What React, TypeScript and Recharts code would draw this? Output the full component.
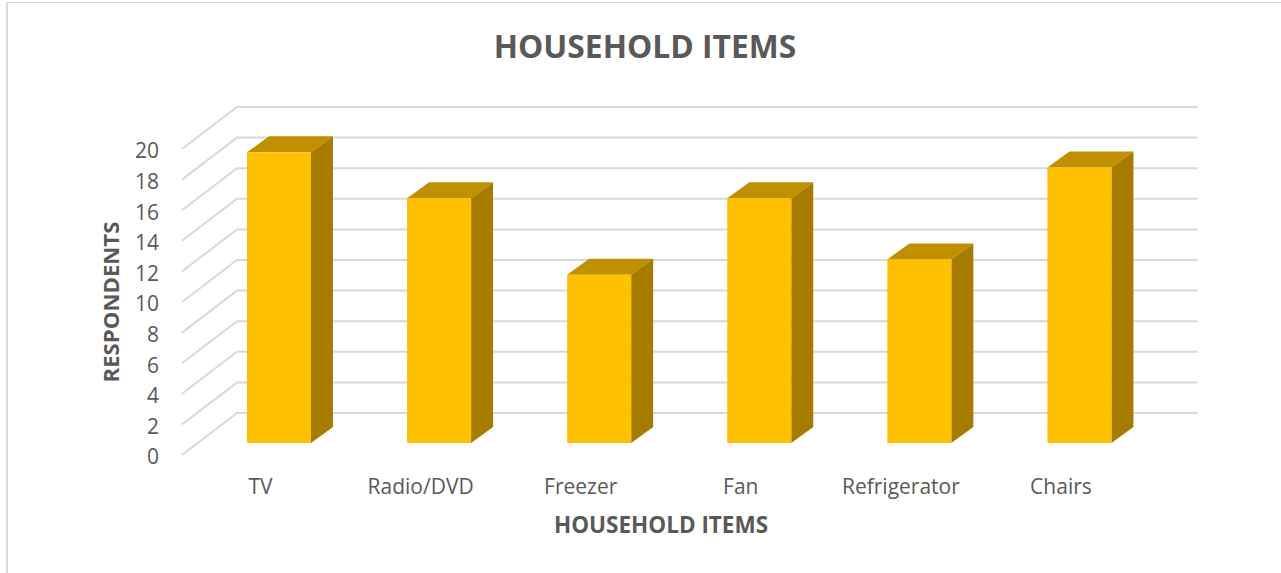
import { BarChart, Bar, XAxis, YAxis, CartesianGrid } from "recharts"

const categories = ["TV", "Radio/DVD", "Freezer", "Fan", "Refrigerator", "Chairs"]
const respondents = [19, 16, 11, 16, 12, 18]
const valueTicks = [0, 2, 4, 6, 8, 10, 12, 14, 16, 18, 20]

const data = categories.map((name, i) => ({ name, respondents: respondents[i] }))

const FONT = '"Open Sans", sans-serif'
const TEXT = "#595959"
const GRID = "#d9d9d9"

// wall is pushed back by this much, bars stand half way in
const WALL_DX = 55
const WALL_DY = -42
const BAR_DX = 16
const BAR_DY = -12
const DEPTH_DX = 22
const DEPTH_DY = -16

function WallLine(props: any) {
  const { x1, x2, y1 } = props
  const bx = x1 + WALL_DX
  const by = y1 + WALL_DY
  return (
    <polyline
      points={`${x1 - 1},${y1} ${bx - 1},${by} ${x2 + WALL_DX - 1},${by}`}
      fill="none"
      stroke={GRID}
      strokeWidth={2}
    />
  )
}

function Bar3D(props: any) {
  const x = props.x + BAR_DX
  const y = props.y + BAR_DY
  const w = props.width
  const h = props.height
  const r = x + w
  const b = y + h
  return (
    <g>
      <polygon
        points={`${x},${y} ${x + DEPTH_DX},${y + DEPTH_DY} ${r + DEPTH_DX},${y + DEPTH_DY} ${r},${y}`}
        fill="#c09000"
      />
      <polygon
        points={`${r},${y} ${r + DEPTH_DX},${y + DEPTH_DY} ${r + DEPTH_DX},${b + DEPTH_DY} ${r},${b}`}
        fill="#a67c00"
      />
      <rect x={x} y={y} width={w} height={h} fill="#ffc000" />
    </g>
  )
}

export default function App() {
  return (
    <div style={{ position: "absolute", left: 0, top: 0, width: 1281, height: 573, background: "#fff" }}>
      <div
        style={{
          position: "absolute",
          left: 6,
          top: 2,
          right: 0,
          bottom: 0,
          borderLeft: "2px solid #d9d9d9",
          borderTop: "1.5px solid #d9d9d9",
        }}
      />
      <BarChart
        width={1281}
        height={573}
        data={data}
        margin={{ top: 149, right: 137.5, bottom: 78, left: 122.5 }}
        style={{ position: "absolute", left: 0, top: 0 }}
      >
        <CartesianGrid horizontal={(p: any) => <WallLine key={p.key} {...p} />} vertical={false} />
        <XAxis
          dataKey="name"
          height={40}
          axisLine={false}
          tickLine={false}
          tickMargin={18}
          interval={0}
          tick={{ fontSize: 21, fill: TEXT, fontFamily: FONT, dx: -2.5 }}
        />
        <YAxis
          width={60.5}
          domain={[0, 20]}
          ticks={valueTicks}
          axisLine={false}
          tickLine={false}
          tickSize={0}
          tickMargin={24}
          tick={{ fontSize: 21, fill: TEXT, fontFamily: FONT, dy: 2 }}
        />
        <Bar dataKey="respondents" barSize={64} shape={Bar3D} isAnimationActive={false} />
        <text x={645} y={58} textAnchor="middle" fontFamily={FONT} fontWeight={700} fontSize={31.8} fill={TEXT}>
          HOUSEHOLD ITEMS
        </text>
        <text x={661} y={533} textAnchor="middle" fontFamily={FONT} fontWeight={700} fontSize={22.5} fill={TEXT}>
          HOUSEHOLD ITEMS
        </text>
        <text
          x={119}
          y={302}
          textAnchor="middle"
          transform="rotate(-90 119 302)"
          fontFamily={FONT}
          fontWeight={700}
          fontSize={22.2}
          fill={TEXT}
        >
          RESPONDENTS
        </text>
      </BarChart>
    </div>
  )
}
